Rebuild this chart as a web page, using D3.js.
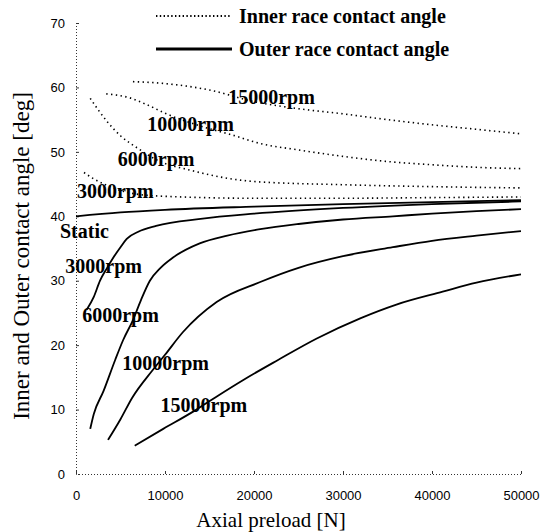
<!DOCTYPE html>
<html>
<head>
<meta charset="utf-8">
<script src="https://cdn.jsdelivr.net/npm/d3@7"></script>
<style>
  body { margin: 0; background: #fff; }
  svg text { fill: #000; }
  .tick text { font-family: "Liberation Sans", Arial, sans-serif; font-size: 13px; }
  .label { font-family: "Liberation Serif", "Times New Roman", serif; font-size: 20px; font-weight: bold; }
  .title { font-family: "Liberation Serif", "Times New Roman", serif; font-size: 21px; }
</style>
</head>
<body>
<svg id="chart" width="542" height="532"></svg>
<script>
var X_TICKS = [0, 10000, 20000, 30000, 40000, 50000];
var Y_TICKS = [0, 10, 20, 30, 40, 50, 60, 70];

// inner race contact angle [deg] vs axial preload [N]
var INNER_3000 = [[900, 46.8], [2000, 45.8], [3500, 44.8], [5000, 44], [7000, 43.4], [10000, 43.1], [20000, 42.8], [30000, 42.8], [40000, 42.9], [50000, 43.0]];
var INNER_6000 = [[1600, 58.3], [3500, 54.7], [5000, 52.5], [7000, 50.5], [9000, 48.8], [13000, 47.1], [20000, 45.4], [30000, 44.9], [40000, 44.6], [50000, 44.4]];
var INNER_10000 = [[3400, 59.0], [6000, 58.4], [8000, 57.3], [10000, 56], [14000, 54], [17600, 52.6], [20700, 51.3], [25000, 50.3], [30000, 49.3], [35000, 48.5], [40000, 48], [45000, 47.6], [50000, 47.4]];
var INNER_15000 = [[6400, 60.9], [10000, 60.6], [15000, 59.6], [20000, 57.8], [25000, 56.7], [30000, 55.9], [35000, 55.0], [40000, 54.2], [45000, 53.5], [50000, 52.8]];

// outer race contact angle [deg]
var OUTER_STATIC = [[0, 40.0], [5000, 40.6], [10000, 41], [20000, 41.5], [30000, 41.9], [40000, 42.2], [50000, 42.5]];
var OUTER_3000 = [[1200, 25.5], [2000, 27.5], [2700, 30], [3500, 32], [4200, 33.6], [5000, 35.2], [5700, 36.5], [7000, 37.6], [9000, 38.5], [14000, 39.6], [20000, 40.4], [30000, 41.3], [40000, 41.9], [50000, 42.3]];
var OUTER_6000 = [[1600, 7.0], [2000, 9.3], [3100, 12.9], [4400, 17.7], [5300, 20.8], [6400, 23.9], [7300, 27], [8300, 30], [9500, 32], [10900, 33.6], [13900, 35.8], [17000, 37], [20700, 38], [25000, 38.8], [30000, 39.5], [35600, 40], [40000, 40.4], [45000, 40.8], [50000, 41.1]];
var OUTER_10000 = [[3600, 5.3], [5000, 8.5], [6300, 11.8], [8600, 16.1], [10000, 18.5], [12000, 22], [15800, 26.7], [20700, 29.8], [25000, 32], [30000, 33.8], [35600, 35.2], [40000, 36.2], [45000, 37], [50000, 37.7]];
var OUTER_15000 = [[6600, 4.4], [9800, 7.0], [13300, 9.8], [16000, 12.2], [18800, 14.6], [22700, 17.7], [27000, 21], [32000, 24.2], [36000, 26.3], [41200, 28.3], [45000, 29.7], [50000, 31.0]];

var INNER = [INNER_3000, INNER_6000, INNER_10000, INNER_15000];
var OUTER = [OUTER_STATIC, OUTER_3000, OUTER_6000, OUTER_10000, OUTER_15000];

// curve labels: text and the point (preload, angle) where the text starts
var LABELS = [
  { text: '15000rpm', at: [17100, 57.4] },
  { text: '10000rpm', at: [8000, 53.3] },
  { text: '6000rpm', at: [4700, 47.8] },
  { text: '3000rpm', at: [100, 42.9] },
  { text: 'Static', at: [-1800, 36.6] },
  { text: '3000rpm', at: [-1200, 31.2] },
  { text: '6000rpm', at: [700, 23.6] },
  { text: '10000rpm', at: [5200, 16.1] },
  { text: '15000rpm', at: [9500, 9.6] }
];

var svg = d3.select('#chart');
var x = d3.scaleLinear().domain([0, 50000]).range([76, 521]);
var y = d3.scaleLinear().domain([0, 70]).range([474, 23]);
var line = d3.line()
  .x(function(d) { return x(d[0]); })
  .y(function(d) { return y(d[1]); })
  .curve(d3.curveMonotoneX);

function drawAxes(){
  var xAxis = svg.append('g')
    .attr('transform', 'translate(0,' + y(0) + ')')
    .call(d3.axisBottom(x).tickValues(X_TICKS).tickSize(-3).tickPadding(17).tickFormat(d3.format('d')));
  var yAxis = svg.append('g')
    .attr('transform', 'translate(' + x(0) + ',0)')
    .call(d3.axisLeft(y).tickValues(Y_TICKS).tickSize(-3).tickPadding(11));

  [xAxis, yAxis].forEach(function(g){
    g.select('.domain').attr('stroke', '#333').attr('stroke-dasharray', '1,2');
    g.selectAll('.tick line').attr('stroke', '#333');
  });
  yAxis.select('.tick:first-of-type line').remove();

  svg.append('text')
    .attr('class', 'title')
    .attr('x', 271).attr('y', 527)
    .attr('text-anchor', 'middle')
    .text('Axial preload [N]');

  svg.append('text')
    .attr('class', 'title')
    .attr('transform', 'translate(29,256) rotate(-90)')
    .attr('text-anchor', 'middle')
    .style('font-size', '23px')
    .text('Inner and Outer contact angle [deg]');
}

function drawCurves(){
  svg.selectAll('.inner').data(INNER).enter().append('path')
    .attr('class', 'inner')
    .attr('d', line)
    .attr('fill', 'none')
    .attr('stroke', '#000')
    .attr('stroke-width', 1.6)
    .attr('stroke-dasharray', '1.4,3.4');

  svg.selectAll('.outer').data(OUTER).enter().append('path')
    .attr('class', 'outer')
    .attr('d', line)
    .attr('fill', 'none')
    .attr('stroke', '#000')
    .attr('stroke-width', 1.8);

  svg.selectAll('.label').data(LABELS).enter().append('text')
    .attr('class', 'label')
    .attr('x', function(d) { return x(d.at[0]); })
    .attr('y', function(d) { return y(d.at[1]); })
    .text(function(d) { return d.text; });
}

function drawLegend(){
  var items = [
    { text: 'Inner race contact angle', dash: '1.4,2.4', w: 1.8, ly: 16 },
    { text: 'Outer race contact angle', dash: null, w: 3, ly: 49 }
  ];
  var g = svg.selectAll('.legend').data(items).enter().append('g').attr('class', 'legend');
  g.append('line')
    .attr('x1', 156).attr('x2', 232)
    .attr('y1', function(d) { return d.ly; })
    .attr('y2', function(d) { return d.ly; })
    .attr('stroke', '#000')
    .attr('stroke-width', function(d) { return d.w; })
    .attr('stroke-dasharray', function(d) { return d.dash; });
  g.append('text')
    .attr('class', 'label')
    .attr('x', 239)
    .attr('y', function(d) { return d.ly + 7; })
    .text(function(d) { return d.text; });
}

drawAxes();
drawCurves();
drawLegend();
</script>
</body>
</html>
